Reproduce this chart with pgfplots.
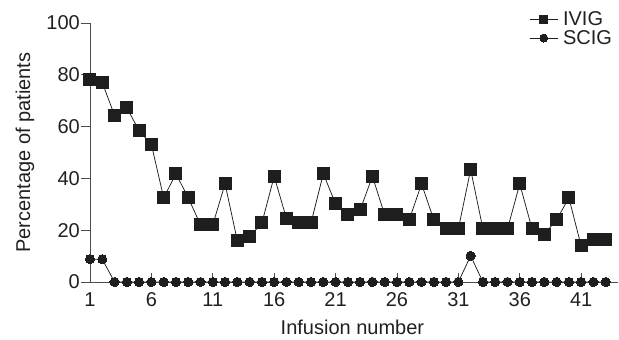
\documentclass[border=0pt]{standalone}
\usepackage{pgfplots}
\pgfplotsset{compat=1.18}
\usepackage{fontspec}
\setmainfont{Liberation Sans}
\definecolor{axisgray}{HTML}{4D4D4D}
\definecolor{ink}{HTML}{1E1E1E}
\definecolor{txt}{HTML}{231F20}
\pgfplotstableread{
x y
1 78.3
2 77.0
3 64.3
4 67.3
5 58.4
6 53.1
7 32.5
8 41.8
9 32.5
10 22.1
11 22.1
12 37.9
13 15.9
14 17.5
15 22.8
16 40.8
17 24.5
18 22.8
19 22.8
20 41.8
21 30.2
22 25.9
23 27.8
24 40.8
25 25.9
26 25.9
27 24.0
28 37.9
29 24.0
30 20.5
31 20.5
32 43.4
33 20.5
34 20.5
35 20.5
36 37.9
37 20.5
38 18.5
39 24.0
40 32.5
41 13.9
42 16.6
43 16.6
}\ivig
\pgfplotstableread{
x y
1 8.8
2 8.8
3 0
4 0
5 0
6 0
7 0
8 0
9 0
10 0
11 0
12 0
13 0
14 0
15 0
16 0
17 0
18 0
19 0
20 0
21 0
22 0
23 0
24 0
25 0
26 0
27 0
28 0
29 0
30 0
31 0
32 10.1
33 0
34 0
35 0
36 0
37 0
38 0
39 0
40 0
41 0
42 0
43 0
}\scig
\begin{document}
\begin{tikzpicture}
\path[use as bounding box] (-90pt,-58pt) rectangle (529pt,282pt);
\begin{axis}[
  at={(0pt,0pt)}, anchor=south west,
  width=528pt, height=259pt, scale only axis,
  xmin=1, xmax=44, ymin=0, ymax=100,
  clip=false,
  axis x line=bottom, axis y line=left,
  axis line style={-, draw=axisgray, line width=0.8pt},
  xtick={1,6,...,41}, ytick={0,20,...,100},
  tick align=inside, major tick length=9pt,
  tick style={draw=axisgray, line width=0.8pt},
  ytick style={xshift=-9pt},
  /pgf/number format/assume math mode=true,
  tick label style={font=\fontsize{20}{24}\selectfont, text=txt},
  xticklabel style={anchor=base, yshift=-25pt},
  yticklabel style={anchor=east, inner sep=0pt, xshift=-10pt},
  every axis x label/.style={at={(axis description cs:0.497,-0.174)}, anchor=center, font=\fontsize{20}{24}\selectfont, text=txt},
  every axis y label/.style={at={(axis description cs:-0.123,0.5)}, rotate=90, anchor=center, font=\fontsize{20}{24}\selectfont, text=txt},
  xlabel={Infusion number},
  ylabel={Percentage of patients},
  legend style={draw=none, fill=none, at={(0.989,1.045)}, anchor=north east,
    font=\fontsize{20}{24}\selectfont, text=txt, inner sep=0pt, row sep=4pt,
    nodes={inner sep=0pt, text height=14pt, text depth=1pt}},
  legend cell align=left,
  legend image code/.code={
    \draw[#1, mark=none] (0pt,0pt) -- (28pt,0pt);
    \draw[#1] plot[only marks, mark size=4pt] coordinates {(14pt,0pt)};
  },
]
\addplot[ink, line width=0.75pt, mark=square*, mark size=6pt, mark options={fill=ink, draw=ink, line width=0pt}] table[x=x,y=y] {\ivig};
\addlegendentry{\hspace{5pt}IVIG}
\addplot[ink, line width=0.75pt, mark=*, mark size=4.6pt, mark options={fill=ink, draw=ink, line width=0pt}] table[x=x,y=y] {\scig};
\addlegendentry{\hspace{5pt}SCIG}
\end{axis}
\end{tikzpicture}
\end{document}
